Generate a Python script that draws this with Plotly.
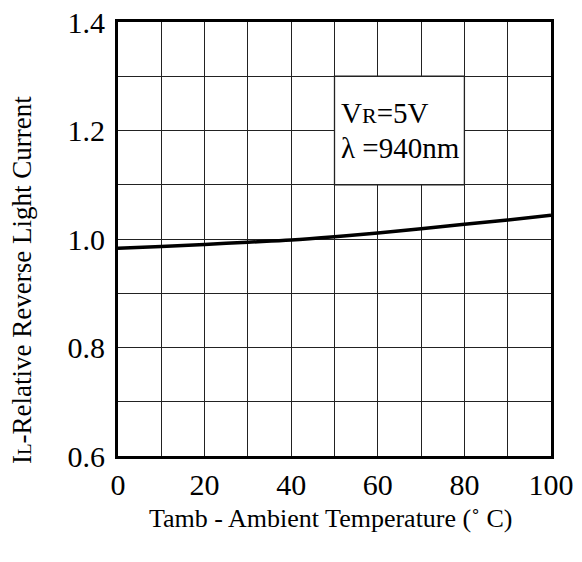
import plotly.graph_objects as go

# Relative reverse light current vs. ambient temperature (VR = 5 V, λ = 940 nm)
temperature_c = [0, 10, 20, 30, 40, 50, 60, 70, 80, 90, 100]
relative_current = [0.983, 0.986, 0.990, 0.994, 0.998, 1.004, 1.011, 1.019, 1.027, 1.035, 1.044]

x_ticks = [0, 20, 40, 60, 80, 100]
y_ticks = [0.6, 0.8, 1.0, 1.2, 1.4]
y_tick_text = ["0.6", "0.8", "1.0", "1.2", "1.4"]

FONT = "Liberation Serif, Times New Roman, serif"

fig = go.Figure()
fig.add_trace(go.Scatter(
    x=temperature_c, y=relative_current, mode="lines",
    line=dict(color="black", width=3.5, shape="spline"),
    hoverinfo="skip", showlegend=False,
))

axis_common = dict(
    showgrid=True, gridcolor="#222222", gridwidth=1.3,
    showline=True, linecolor="black", linewidth=3, mirror=True,
    zeroline=False, ticks="", automargin=False,
    tickfont=dict(family=FONT, size=30, color="black"),
)

fig.update_xaxes(range=[0, 100], tickvals=x_ticks, dtick=10,
                 minor=dict(showgrid=True, gridcolor="#222222", gridwidth=1.3, dtick=10),
                 ticklabelstandoff=0, **axis_common)
fig.update_yaxes(range=[0.6, 1.4], tickvals=y_ticks, ticktext=y_tick_text,
                 minor=dict(showgrid=True, gridcolor="#222222", gridwidth=1.3, tickvals=[0.7, 0.9, 1.1, 1.3]),
                 ticklabelstandoff=4, **axis_common)

# Label box over the grid
fig.add_shape(type="rect", xref="x", yref="y", x0=50, x1=80, y0=1.1, y1=1.3,
              fillcolor="white", line=dict(color="#222222", width=1.3), layer="above")
fig.add_annotation(x=51, y=1.233, xref="x", yref="y", xanchor="left", yanchor="middle",
                   text="V<span style='font-size:22px'>R</span>=5V", showarrow=False,
                   font=dict(family=FONT, size=29, color="black"))
fig.add_annotation(x=51, y=1.168, xref="x", yref="y", xanchor="left", yanchor="middle",
                   text="λ =940nm", showarrow=False,
                   font=dict(family=FONT, size=29, color="black"))

# Axis titles
fig.add_annotation(x=0.49, y=-0.143, xref="paper", yref="paper", xanchor="center", yanchor="middle",
                   text="Tamb - Ambient Temperature (˚ C)", showarrow=False,
                   font=dict(family=FONT, size=26, color="black"))
fig.add_annotation(x=-0.222, y=0.405, xref="paper", yref="paper", xanchor="center", yanchor="middle",
                   text="I<span style='font-size:19px'>L</span>-Relative Reverse Light Current",
                   textangle=-90, showarrow=False,
                   font=dict(family=FONT, size=27, color="black"))

fig.update_layout(
    width=582, height=562,
    margin=dict(l=118, r=31, t=22, b=106),
    paper_bgcolor="white", plot_bgcolor="white",
)

fig.write_html("out.html")
